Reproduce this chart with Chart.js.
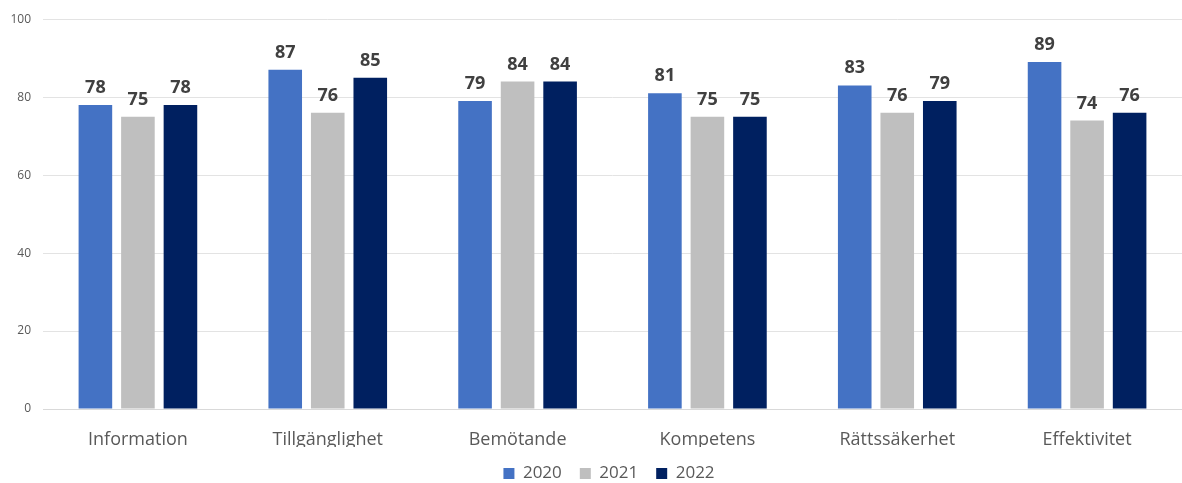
<!DOCTYPE html>
<html>
<head>
<meta charset="utf-8">
<script src="https://cdn.jsdelivr.net/npm/chart.js@4"></script>
<style>
  body { margin: 0; background: #fff; }
  #wrap { width: 1182px; height: 483px; position: relative; }
</style>
</head>
<body>
<div id="wrap"><canvas id="myChart"></canvas></div>
<script>
const CATEGORIES = ['Information', 'Tillgänglighet', 'Bemötande', 'Kompetens', 'Rättssäkerhet', 'Effektivitet'];
const Y2020 = [78, 87, 79, 81, 83, 89];
const Y2021 = [75, 76, 84, 75, 76, 74];
const Y2022 = [78, 85, 84, 75, 79, 76];
const YTICKS = [0, 20, 40, 60, 80, 100];

const FONT = "'Open Sans', 'DejaVu Sans', sans-serif";

// draws the value above each bar
const barLabels = {
  id: 'barLabels',
  afterDatasetsDraw(chart) {
    const ctx = chart.ctx;
    ctx.save();
    ctx.font = 'bold 18px ' + FONT;
    ctx.fillStyle = '#404040';
    ctx.textAlign = 'center';
    ctx.textBaseline = 'alphabetic';
    chart.data.datasets.forEach((ds, i) => {
      chart.getDatasetMeta(i).data.forEach((bar, j) => {
        ctx.fillText(ds.data[j], bar.x, bar.y - 12);
      });
    });
    ctx.restore();
  }
};

// nudge the legend a bit to the right, like the original
const legendShift = {
  id: 'legendShift',
  afterLayout(chart) {
    chart.legend.left += 18;
    chart.legend.right += 18;
  }
};

let ctx = document.querySelector('#myChart').getContext('2d');
let myChart = new Chart(ctx, {
  type: 'bar',
  data: {
    labels: CATEGORIES,
    datasets: [
      { label: '2020', data: Y2020, backgroundColor: '#4472C4' },
      { label: '2021', data: Y2021, backgroundColor: '#BFBFBF' },
      { label: '2022', data: Y2022, backgroundColor: '#002060' }
    ]
  },
  options: {
    responsive: true,
    maintainAspectRatio: false,
    animation: false,
    categoryPercentage: 0.672,
    barPercentage: 0.79,
    layout: { padding: { top: 12, right: 0, left: 0, bottom: -9 } },
    plugins: {
      legend: {
        position: 'bottom',
        labels: {
          boxWidth: 11,
          boxHeight: 11,
          padding: 18,
          color: '#595959',
          font: { family: FONT, size: 17 }
        }
      },
      tooltip: { enabled: false }
    },
    scales: {
      x: {
        afterFit: (axis) => { axis.height = 38; },
        grid: { display: false, drawTicks: false },
        border: { display: true, color: '#d9d9d9' },
        ticks: { color: '#595959', padding: 20, font: { family: FONT, size: 18 } }
      },
      y: {
        min: 0,
        max: 100,
        afterBuildTicks: (axis) => { axis.ticks = YTICKS.map(v => ({ value: v })); },
        afterFit: (axis) => { axis.width = 43; },
        grid: { color: '#e3e3e3', drawTicks: false },
        border: { display: false },
        ticks: { color: '#595959', padding: 12, font: { family: FONT, size: 12 } }
      }
    }
  },
  plugins: [barLabels, legendShift]
});
</script>
</body>
</html>
